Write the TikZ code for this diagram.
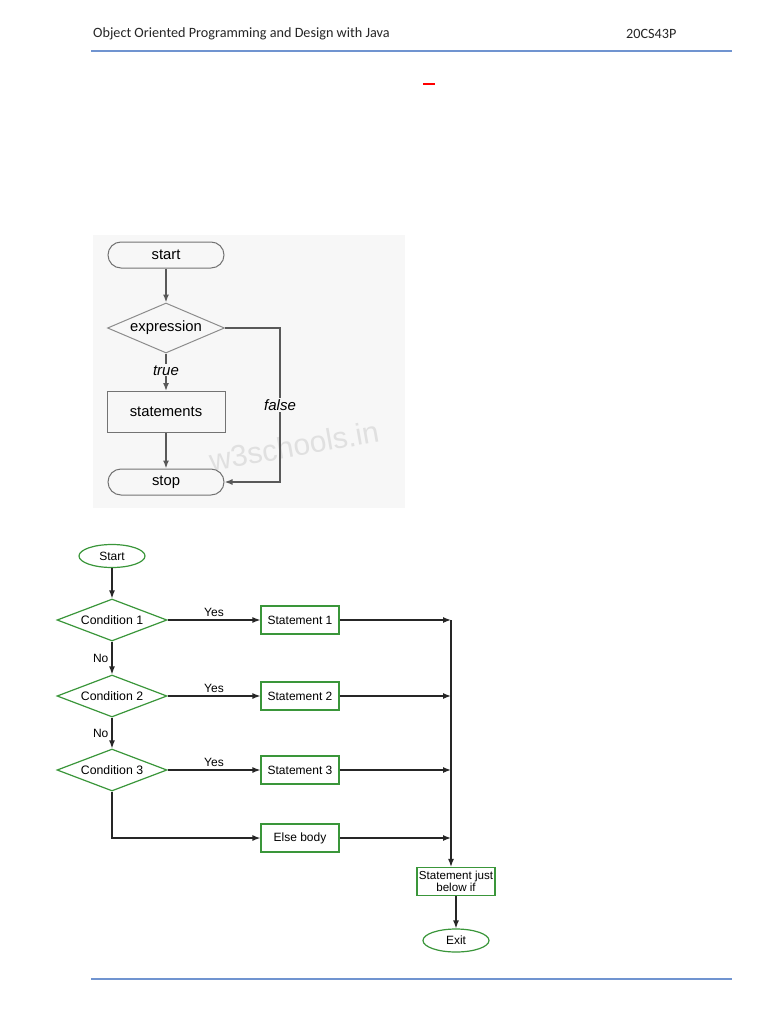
\documentclass[tikz,border=0pt]{standalone}
\usepackage{fontspec}
\setmainfont{Liberation Sans}
\newfontfamily\headfont{Carlito}
\usetikzlibrary{shapes.geometric}
\usetikzlibrary{positioning}
\usetikzlibrary{arrows.meta}

\definecolor{flowgreen}{RGB}{58,150,58}
\definecolor{ruleblue}{RGB}{112,148,208}
\definecolor{imgback}{RGB}{247,247,247}

\tikzset{
    oldterm/.style = {rectangle, rounded corners = 13pt, draw = black!55, fill = white!97!black,
                      minimum width = 116pt, minimum height = 26pt, line width = 1pt,
                      font = \fontsize{14.8}{16}\selectfont},
    olddec/.style  = {diamond, aspect = 2.34, inner sep = 0pt, draw = black!45, fill = white!97!black,
                      minimum width = 117pt, minimum height = 50pt, line width = 1pt,
                      font = \fontsize{14.8}{16}\selectfont},
    oldbox/.style  = {rectangle, draw = black!55, fill = white!97!black,
                      minimum width = 118pt, minimum height = 41pt, line width = 1pt,
                      font = \fontsize{14.8}{16}\selectfont},
    oldlabel/.style = {fill = imgback, inner sep = 1pt, font = \itshape\fontsize{15}{17}\selectfont},
    oldarrow/.style = {->, draw = black!65, line width = 1.5pt},
    gterm/.style = {ellipse, draw = flowgreen, fill = white, line width = 1.2pt,
                    minimum width = 66pt, minimum height = 23pt, inner sep = 1pt,
                    font = \fontsize{12}{13}\selectfont},
    gdec/.style  = {diamond, aspect = 2.62, inner sep = 0.5pt, draw = flowgreen, fill = white, line width = 1.2pt,
                    minimum width = 110pt, minimum height = 42pt,
                    font = \fontsize{12.3}{13}\selectfont},
    gbox/.style  = {rectangle, draw = flowgreen, fill = white, line width = 1.2pt,
                    minimum width = 78pt, minimum height = 28pt, inner sep = 2pt,
                    font = \fontsize{12}{13}\selectfont},
    garrow/.style = {->, draw = black!85, line width = 1.3pt},
    glabel/.style = {inner sep = 3pt, font = \fontsize{12}{13}\selectfont},
    >={Latex[length = 8pt, width = 6pt]}
}

\begin{document}
\begin{tikzpicture}[x = 1pt, y = -1pt]

\useasboundingbox[fill = white] (0,0) rectangle (768,1024);

% page header and footer
\node[anchor = west, inner sep = 0pt, text = black!85, font = \headfont\fontsize{14.2}{16}\selectfont]
    (title) at (93,34) {Object Oriented Programming and Design with Java};
\node[anchor = west, inner sep = 0pt, text = black!85, font = \headfont\fontsize{14.2}{16}\selectfont]
    (code) at (626,34) {20CS43P};
\draw[ruleblue, line width = 1.2pt] (91,51) -- (732,51);
\draw[ruleblue, line width = 1.2pt] (91,979) -- (732,979);
\draw[red, line width = 1.3pt] (423,84) -- (435,84);


% first flowchart (while loop)
\fill[imgback] (93,235) rectangle (405,508);

\node[rotate = 10, text = black!12, font = \fontsize{30}{32}\selectfont] (mark) at (294,446) {w3schools.in};

\node[oldterm] (start) at (166,255) {start};
\node[olddec]  (expr)  at (166,328) {expression};
\node[oldbox]  (stmts) at (166,412) {statements};
\node[oldterm] (stop)  at (166,482) {stop};

\coordinate (falsecorner) at (280,328);

\draw[oldarrow] (start) -- (expr);
\draw[oldarrow] (expr) -- node[oldlabel, pos = 0.45] (truelabel) {true} (stmts);
\draw[oldarrow] (stmts) -- (stop);
\draw[oldarrow] (expr.east) -- (falsecorner) |- node[oldlabel, pos = 0.25] (falselabel) {false} (stop.east);


% second flowchart (if - else if ladder)
\node[gterm] (gstart) at (112,556) {Start};

\foreach \N/\Y in {1/620, 2/696, 3/770}{
    \node[gdec] (cond\N) at (112,\Y) {Condition \N};
    \node[gbox] (stmt\N) at (300,\Y) {Statement \N};
    \coordinate (join\N) at (451,\Y);
    \draw[garrow] (cond\N) -- node[glabel, above] {Yes} (stmt\N);
    \draw[garrow] (stmt\N) -- (join\N);
    };

\node[gbox] (else) at (300,838) {Else body};
\coordinate (join4) at (451,838);

\node[gbox, align = center, font = \fontsize{11.6}{10}\selectfont] (after) at (456,881.5) {Statement just\\below if};
\node[gterm] (exit) at (456,940.5) {Exit};

\draw[garrow] (gstart) -- (cond1);
\draw[garrow] (cond1) -- node[glabel, left] {No} (cond2);
\draw[garrow] (cond2) -- node[glabel, left] {No} (cond3);
\draw[garrow] (cond3) |- (else);
\draw[garrow] (else) -- (join4);
\draw[garrow] (join1) -- (join1 |- after.north);
\draw[garrow] (after) -- (exit);

\end{tikzpicture}
\end{document}
